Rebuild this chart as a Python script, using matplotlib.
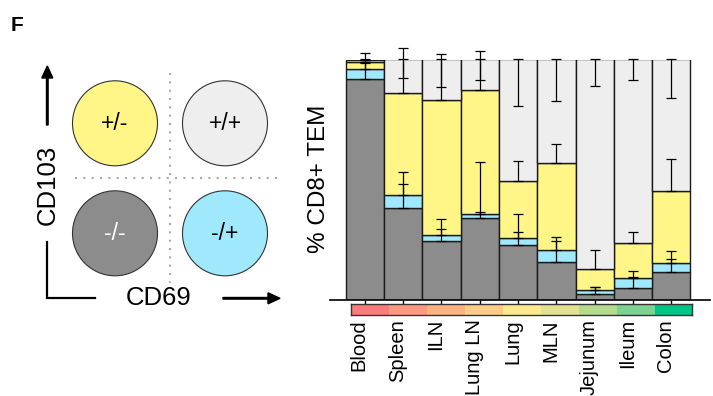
import numpy as np
import matplotlib
matplotlib.use('Agg')
import matplotlib.pyplot as plt
from matplotlib.patches import Circle
from matplotlib.colors import to_rgb

plt.rcParams['font.family'] = ['Liberation Sans', 'DejaVu Sans']

tissues = ['Blood', 'Spleen', 'ILN', 'Lung LN', 'Lung', 'MLN', 'Jejunum', 'Ileum', 'Colon']

# % of CD8+ TEM per CD103/CD69 subset (stacked bottom -> top)
dn = [91.8, 38.2, 24.5, 34.0, 22.8, 15.8, 2.4, 5.0, 11.8]       # -/-
cd69 = [4.3, 5.4, 2.5, 1.7, 2.8, 5.1, 1.9, 4.0, 3.6]            # -/+
cd103 = [2.7, 42.6, 56.3, 51.6, 23.8, 35.9, 8.7, 14.7, 30.1]    # +/-
dp = [0.8, 13.8, 16.7, 12.7, 50.6, 43.2, 87.0, 76.3, 54.5]      # +/+

dn_err = [6.8, 10.1, 5.1, 2.5, 5.4, 8.9, 3.0, 4.4, 5.4]
cd69_err = [3.9, 9.8, 6.6, 21.7, 10.1, 5.4, 1.1, 2.9, 5.0]
cd103_err = [4.0, 18.7, 19.1, 16.3, 8.2, 7.9, 7.7, 4.4, 13.1]
dp_err = [0.0, 7.6, 11.6, 8.7, 19.4, 17.3, 11.2, 8.4, 16.2]

strip_colors = ['#FF7B7B', '#FF9880', '#FFB380', '#FFCC88', '#FFE98F',
                '#E2E290', '#B5D98D', '#7CD290', '#00C586']

c_dn = '#8C8C8C'
c_69 = '#A0E8FC'
c_103 = '#FFF687'
c_dp = '#EEEEEE'

W, H = 713, 396
fig = plt.figure(figsize=(W / 100, H / 100), dpi=100)

# overlay in pixel coordinates for the schematic
ov = fig.add_axes([0, 0, 1, 1])
ov.set_xlim(0, W)
ov.set_ylim(H, 0)
ov.axis('off')

ov.text(11, 31, 'F', fontsize=15, fontweight='bold', ha='left', va='baseline')

# quadrant dotted lines
ov.plot([170, 170], [73, 283], color='#AAAAAA', lw=1.5, ls=(0, (1, 3)))
ov.plot([75, 277], [177.7, 177.7], color='#AAAAAA', lw=1.5, ls=(0, (1, 3)))

quad = [(115, 123.3, c_103, '+/-', 'black'),
        (225, 123.3, c_dp, '+/+', 'black'),
        (115, 233.3, c_dn, '-/-', 'white'),
        (225, 233.3, c_69, '-/+', 'black')]
for cx, cy, col, lab, tc in quad:
    ov.add_patch(Circle((cx, cy), 42.5, facecolor=col, edgecolor='#333333', lw=0.8))
    ov.text(cx, cy, lab, fontsize=16.5, ha='center', va='center', color=tc)

# axes arrows
ov.arrow(47.3, 125, 0, -59, width=1.6, head_width=11, head_length=12,
         length_includes_head=True, color='black')
ov.plot([47.3, 47.3, 95], [241.7, 298.3, 298.3], color='black', lw=1.6,
        solid_joinstyle='miter')
ov.arrow(223, 298.3, 57, 0, width=1.6, head_width=11, head_length=12,
         length_includes_head=True, color='black')
ov.text(48, 185, 'CD103', fontsize=18.5, rotation=90, ha='center', va='center',
        rotation_mode='anchor')
ov.text(159, 298, 'CD69', fontsize=18.5, ha='center', va='center')
ov.text(319, 179, '% CD8+ TEM', fontsize=17.5, rotation=90, ha='center', va='center',
        rotation_mode='anchor')

# stacked bars
ax = fig.add_axes([330 / W, 1 - 300 / H, 380 / W, 240.5 / H])
ax.patch.set_alpha(0)
x = np.arange(len(tissues))
dn_a = np.array(dn)
b1 = dn_a
b2 = b1 + np.array(cd69)
b3 = b2 + np.array(cd103)
b4 = b3 + np.array(dp)

kw = dict(width=1.0, edgecolor='#1A1A1A', linewidth=1.0)
ax.bar(x, dn, color=c_dn, **kw)
ax.bar(x, cd69, bottom=b1, color=c_69, **kw)
ax.bar(x, cd103, bottom=b2, color=c_103, **kw)
ax.bar(x, dp, bottom=b3, color=c_dp, **kw)

ekw = dict(fmt='none', ecolor='black', elinewidth=0.9, capsize=3.6, capthick=0.9,
           clip_on=False)
zeros = np.zeros(len(x))
ax.errorbar(x, b1, yerr=[zeros, dn_err], **ekw)
ax.errorbar(x, b2, yerr=[zeros, cd69_err], **ekw)
ax.errorbar(x, b3, yerr=[zeros, cd103_err], **ekw)
ax.errorbar(x, b4, yerr=[dp_err, zeros], **ekw)

ax.set_xlim(-0.91, 9.01)
ax.set_ylim(0, 100)
for s in ['top', 'right', 'left']:
    ax.spines[s].set_visible(False)
ax.spines['bottom'].set_linewidth(1.2)
ax.set_yticks([])
ax.set_xticks(x)
ax.set_xticklabels(tissues, fontsize=14.5)
ax.tick_params(axis='x', length=3, width=1, pad=10.8)
plt.setp(ax.get_xticklabels(), rotation=90, ha='right', va='baseline',
         rotation_mode='anchor')

# colour strip under the bars
sx = fig.add_axes([350.7 / W, 1 - 315 / H, 341.6 / W, 11 / H])
sx.imshow(np.array([[to_rgb(c) for c in strip_colors]]), aspect='auto')
sx.set_xticks([])
sx.set_yticks([])
for s in sx.spines.values():
    s.set_linewidth(1.0)
    s.set_color('#333333')

fig.savefig('out.png', dpi=100)
